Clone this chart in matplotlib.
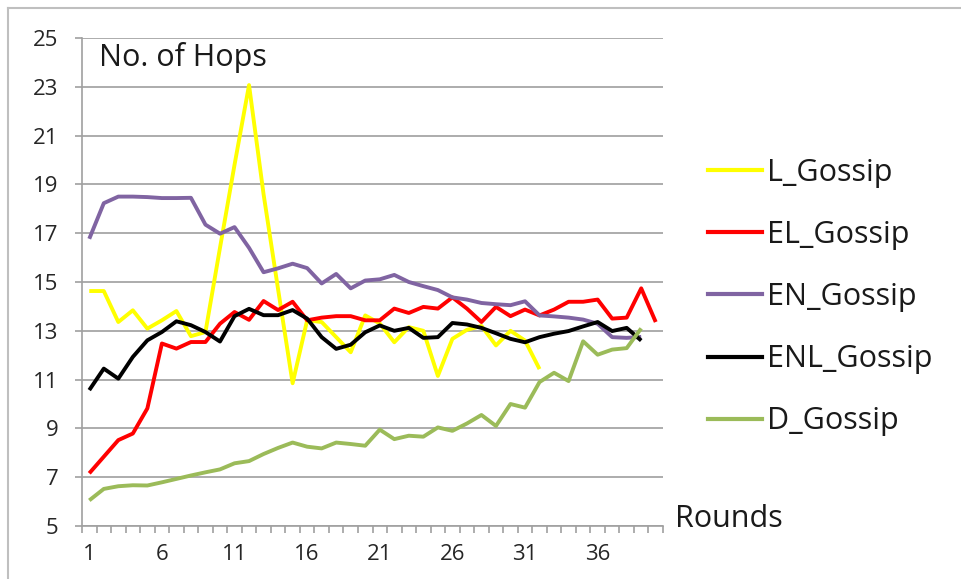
import numpy as np
import matplotlib.pyplot as plt
from matplotlib.lines import Line2D

# Datos (No. of Hops por ronda)
rounds = np.arange(1, 41)

l_gossip = [14.63, 14.63, 13.36, 13.84, 13.09, 13.43, 13.81, 12.78, 12.95, 16.4,
            19.8, 23.07, 18.6, 14.7, 10.85, 13.43, 13.36, 12.74, 12.12, 13.63,
            13.3, 12.53, 13.15, 13.0, 11.15, 12.67, 13.04, 13.2, 12.4, 13.0,
            12.6, 11.43]
el_gossip = [7.16, 7.84, 8.52, 8.79, 9.82, 12.48, 12.27, 12.54, 12.54, 13.29,
             13.77, 13.45, 14.22, 13.85, 14.19, 13.43, 13.54, 13.6, 13.6, 13.43,
             13.43, 13.91, 13.73, 13.98, 13.91, 14.37, 13.91, 13.36, 13.98, 13.6,
             13.87, 13.63, 13.87, 14.19, 14.19, 14.28, 13.5, 13.54, 14.74, 13.36]
en_gossip = [16.77, 18.23, 18.5, 18.5, 18.48, 18.44, 18.44, 18.45, 17.35, 16.98,
             17.25, 16.4, 15.4, 15.56, 15.75, 15.57, 14.94, 15.33, 14.74, 15.06,
             15.11, 15.29, 15.0, 14.83, 14.67, 14.37, 14.28, 14.14, 14.09, 14.05,
             14.21, 13.63, 13.59, 13.54, 13.46, 13.29, 12.74, 12.71, 12.75]
enl_gossip = [10.57, 11.45, 11.04, 11.93, 12.61, 12.95, 13.39, 13.23, 12.95, 12.56,
              13.6, 13.9, 13.64, 13.64, 13.85, 13.5, 12.74, 12.26, 12.43, 12.94,
              13.22, 13.0, 13.12, 12.71, 12.74, 13.32, 13.26, 13.12, 12.9, 12.67,
              12.53, 12.74, 12.88, 12.99, 13.18, 13.36, 12.99, 13.12, 12.6]
d_gossip = [6.05, 6.52, 6.63, 6.67, 6.66, 6.79, 6.93, 7.07, 7.2, 7.32,
            7.57, 7.66, 7.95, 8.2, 8.42, 8.25, 8.18, 8.42, 8.36, 8.29,
            8.95, 8.56, 8.7, 8.66, 9.04, 8.9, 9.2, 9.55, 9.1, 10.0,
            9.85, 10.9, 11.28, 10.94, 12.57, 12.02, 12.23, 12.29, 13.1]

series = [
    ('L_Gossip', l_gossip, '#FFFF00'),
    ('EL_Gossip', el_gossip, '#FF0000'),
    ('EN_Gossip', en_gossip, '#8064A2'),
    ('ENL_Gossip', enl_gossip, '#000000'),
    ('D_Gossip', d_gossip, '#9BBB59'),
]

plt.rcParams['font.family'] = ['Open Sans', 'DejaVu Sans']

W, H = 962, 579
fig = plt.figure(figsize=(W / 100, H / 100), dpi=100)
ax = fig.add_axes([82 / W, 1 - 526 / H, (663 - 82) / W, (526 - 38) / H])

for name, vals, col in series:
    ax.plot(rounds[:len(vals)], vals, color=col, lw=2.8, label=name,
            solid_joinstyle='round', solid_capstyle='butt')

ax.set_xlim(0.5, 40.5)
ax.set_ylim(5, 25)
ax.set_yticks(np.arange(5, 26, 2))
ax.set_xticks(np.arange(1, 37, 5))
ax.set_xticks(np.arange(0.5, 41, 1), minor=True)
ax.yaxis.grid(True, color='#a6a6a6', lw=1.3)
ax.set_axisbelow(True)

for s in ['top', 'right']:
    ax.spines[s].set_visible(False)
for s in ['left', 'bottom']:
    ax.spines[s].set_color('#a0a0a0')
    ax.spines[s].set_linewidth(1.2)

ax.tick_params(axis='y', direction='out', length=5, width=1.2, color='#a0a0a0',
               labelsize=16, pad=12, labelcolor='#262626')
ax.tick_params(axis='x', which='major', length=0, labelsize=16, pad=13,
               labelcolor='#262626')
ax.tick_params(axis='x', which='minor', direction='out', length=5, width=1.2,
               color='#a0a0a0')

fig.text(99 / W, 1 - 66 / H, 'No. of Hops', fontsize=22, va='baseline',
         color='#1a1a1a')
fig.text(675 / W, 1 - 527 / H, 'Rounds', fontsize=22, va='baseline',
         color='#1a1a1a')

handles = [Line2D([], [], color=c, lw=3) for _, _, c in series]
fig.legend(handles, [n for n, _, _ in series], loc='upper left',
           bbox_to_anchor=(708 / W, 1 - 158 / H), frameon=False, fontsize=22,
           handlelength=1.76, handletextpad=0.16, labelspacing=1.05,
           borderpad=0, borderaxespad=0, labelcolor='#1a1a1a')

# borde del área del gráfico
fig.add_artist(Line2D([8 / W, 8 / W], [0, 1 - 8 / H], color='#bfbfbf', lw=1.5,
                      transform=fig.transFigure))
fig.add_artist(Line2D([8 / W, 1], [1 - 8 / H, 1 - 8 / H], color='#bfbfbf', lw=1.5,
                      transform=fig.transFigure))

fig.savefig('out.png', dpi=100)
